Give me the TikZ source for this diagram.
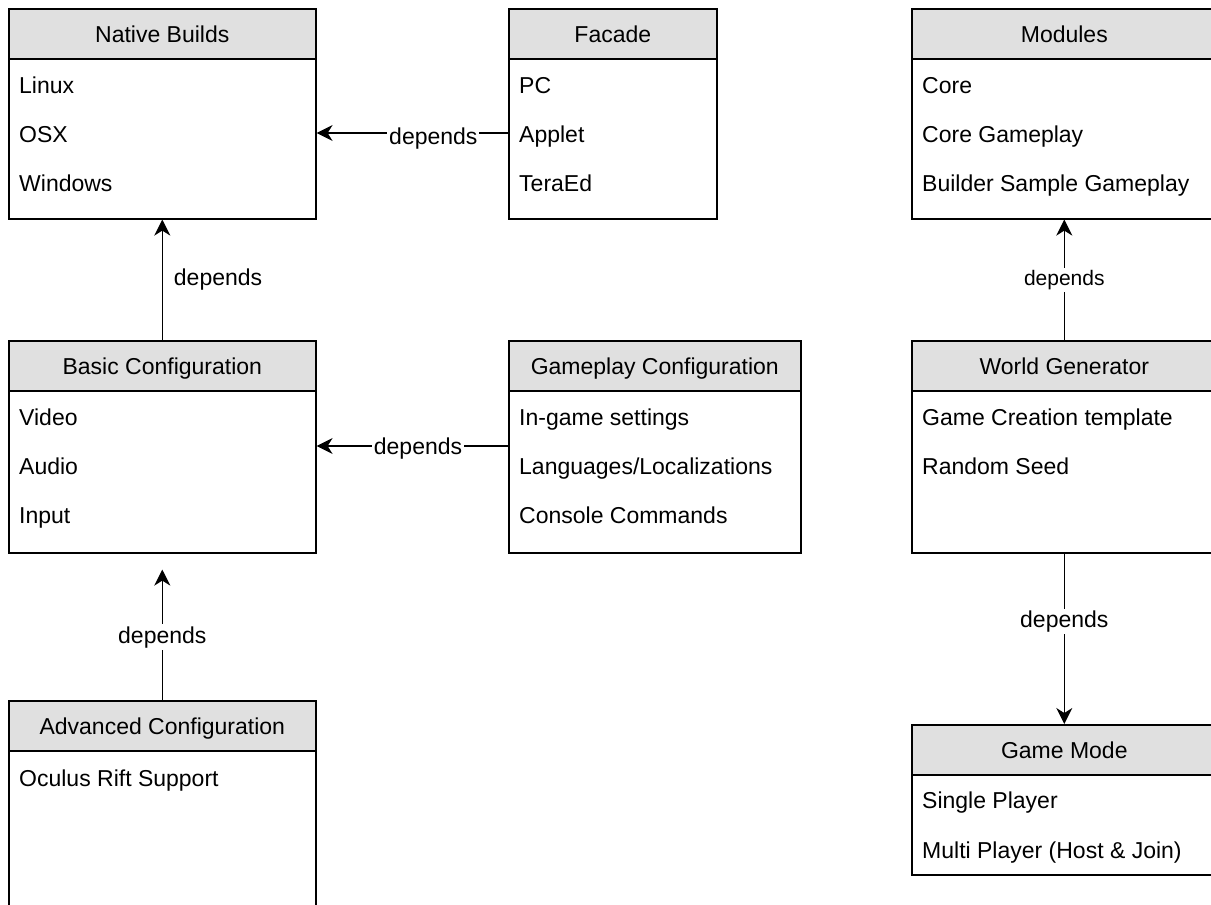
\documentclass[tikz,border=0pt]{standalone}
\usepackage{fontspec}
\setmainfont{Liberation Sans}
\usetikzlibrary{arrows.meta}
\definecolor{hdrgray}{RGB}{224,224,224}
\tikzset{
	cls/.style = {draw, line width=1.6pt, fill=hdrgray, anchor=north west, inner sep=0pt, minimum height=50pt, text height=21.5pt, text depth=5pt, font=\fontsize{23}{27}\selectfont},
	lst/.style = {draw, line width=1.6pt, fill=white, anchor=north west, inner sep=0pt},
	item/.style = {anchor=west, inner sep=0pt, text height=21.5pt, text depth=5pt, font=\fontsize{23}{27}\selectfont},
	dep/.style = {line width=1.3pt, -{Stealth[length=16pt,width=16pt,inset=5pt]}},
	lbl/.style = {fill=white, inner sep=2pt, font=\fontsize{23}{27}\selectfont}
}

\begin{document}
\begin{tikzpicture}[x=1pt,y=-1pt]
	\useasboundingbox (0,0) rectangle (1211,905);

	% native builds
	\node[cls, minimum width=307pt] (native) at (8,8) {Native Builds};
	\node[lst, minimum width=307pt, minimum height=160pt] (native-list) at (8,58) {};
	\node[item] (native-1) at (19,85) {Linux};
	\node[item] (native-2) at (19,134) {OSX};
	\node[item] (native-3) at (19,183) {Windows};

	% facade
	\node[cls, minimum width=208pt] (facade) at (508,8) {Facade};
	\node[lst, minimum width=208pt, minimum height=160pt] (facade-list) at (508,58) {};
	\node[item] (facade-1) at (519,85) {PC};
	\node[item] (facade-2) at (519,134) {Applet};
	\node[item] (facade-3) at (519,183) {TeraEd};

	% modules
	\node[cls, minimum width=305pt] (modules) at (911,8) {Modules};
	\node[lst, minimum width=305pt, minimum height=160pt] (modules-list) at (911,58) {};
	\node[item] (modules-1) at (922,85) {Core};
	\node[item] (modules-2) at (922,134) {Core Gameplay};
	\node[item] (modules-3) at (922,183) {Builder Sample Gameplay};

	% basic configuration
	\node[cls, minimum width=307pt] (basic) at (8,340) {Basic Configuration};
	\node[lst, minimum width=307pt, minimum height=162pt] (basic-list) at (8,390) {};
	\node[item] (basic-1) at (19,417) {Video};
	\node[item] (basic-2) at (19,466) {Audio};
	\node[item] (basic-3) at (19,515) {Input};

	% gameplay configuration
	\node[cls, minimum width=292pt] (gameplay) at (508,340) {Gameplay Configuration};
	\node[lst, minimum width=292pt, minimum height=162pt] (gameplay-list) at (508,390) {};
	\node[item] (gameplay-1) at (519,417) {In-game settings};
	\node[item] (gameplay-2) at (519,466) {Languages/Localizations};
	\node[item] (gameplay-3) at (519,515) {Console Commands};

	% world generator
	\node[cls, minimum width=305pt] (world) at (911,340) {World Generator};
	\node[lst, minimum width=305pt, minimum height=162pt] (world-list) at (911,390) {};
	\node[item] (world-1) at (922,417) {Game Creation template};
	\node[item] (world-2) at (922,466) {Random Seed};

	% advanced configuration
	\node[cls, minimum width=307pt] (advanced) at (8,700) {Advanced Configuration};
	\node[lst, minimum width=307pt, minimum height=220pt] (advanced-list) at (8,750) {};
	\node[item] (advanced-1) at (19,778) {Oculus Rift Support};

	% game mode
	\node[cls, minimum width=305pt] (mode) at (911,724) {Game Mode};
	\node[lst, minimum width=305pt, minimum height=100pt] (mode-list) at (911,774) {};
	\node[item] (mode-1) at (922,800) {Single Player};
	\node[item] (mode-2) at (922,850) {Multi Player (Host \& Join)};

	% dependencies
	\coordinate (facade-out) at (508,133);
	\coordinate (gameplay-out) at (508,446);
	\draw[dep] (facade-out) -- (native-list.east |- facade-out) node[lbl, pos=0.39, yshift=-6pt] {depends};
	\draw[dep] (gameplay-out) -- (basic-list.east |- gameplay-out) node[lbl, pos=0.47, yshift=-3pt] {depends};
	\draw[dep] (basic.north) -- (native-list.south) node[midway, right=9pt, inner sep=2pt, font=\fontsize{23}{27}\selectfont] {depends};
	\draw[dep, shorten >=16pt] (advanced.north) -- (basic-list.south) node[lbl, pos=0.43] {depends};
	\draw[dep] (world.north) -- (modules-list.south) node[lbl, midway, font=\fontsize{21}{25}\selectfont] {depends};
	\draw[dep] (world-list.south) -- (mode.north) node[lbl, pos=0.4] {depends};
\end{tikzpicture}
\end{document}
